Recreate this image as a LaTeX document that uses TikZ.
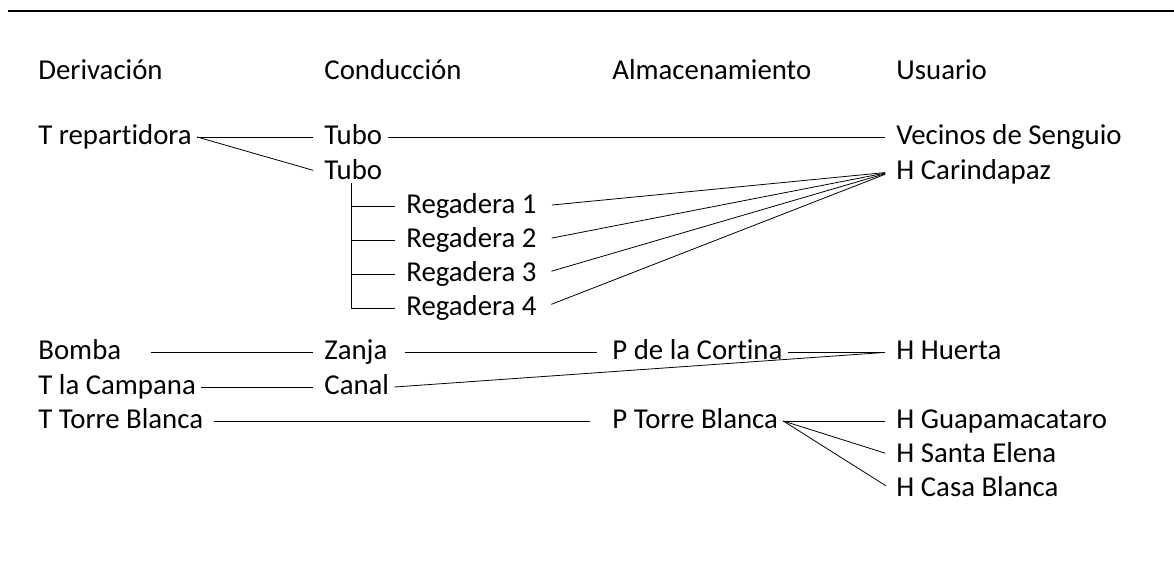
\documentclass[tikz,border=0pt]{standalone}
\usepackage{fontspec}
\setmainfont{Carlito}[Ligatures={NoCommon,NoContextual}]

\tikzset{
  label/.style={anchor=west, inner xsep=2.5pt, inner ysep=0pt,
    text height=0.92em, text depth=0.18em, font=\fontsize{14.4}{17}\selectfont},
  link/.style={shorten >=3pt}
}

\begin{document}
\begin{tikzpicture}[x=0.5pt, y=-0.5pt, every node/.style={label}]
    \useasboundingbox (0,0) rectangle (1174,563);
    \draw[line width=1.1pt] (8,11) -- (1174,11);

    \node(hder) at (33,72) {Derivación};
    \node(hcon) at (319,72) {Conducción};
    \node(halm) at (607,72) {Almacenamiento};
    \node(husu) at (891,72) {Usuario};

    \node(trep) at (33,137) {T repartidora};
    \node(tubo1) at (319,137) {Tubo};
    \node(tubo2) at (319,172) {Tubo};
    \node(vecinos) at (891,137) {Vecinos de Senguio};
    \node(carin) at (891,172) {H Carindapaz};
    \node(reg1) at (401,206) {Regadera 1};
    \node(reg2) at (401,240) {Regadera 2};
    \node(reg3) at (401,274) {Regadera 3};
    \node(reg4) at (401,308) {Regadera 4};

    \node(bomba) at (33,352) {Bomba};
    \node(zanja) at (319,352) {Zanja};
    \node(cortina) at (607,352) {P de la Cortina};
    \node(huerta) at (891,352) {H Huerta};
    \node(campana) at (33,387) {T la Campana};
    \node(canal) at (319,387) {Canal};

    \node(ttorre) at (33,421) {T Torre Blanca};
    \node(ptorre) at (607,421) {P Torre Blanca};
    \node(guapa) at (891,421) {H Guapamacataro};
    \node(selena) at (891,455) {H Santa Elena};
    \node(cblanca) at (891,489) {H Casa Blanca};

    \draw[link] (trep.east) -- (tubo1.west);
    \draw[link] (trep.east) -- (tubo2.west);
    \draw[link] (tubo1.east) -- (vecinos.west);
    \draw ([xshift=-1pt]tubo2.south) -- ([xshift=-1pt]tubo2.south |- reg4.west);
    \foreach \r in {reg1,reg2,reg3,reg4} {
      \draw[link] ([xshift=-1pt]tubo2.south |- \r.west) -- (\r.west);
      \draw[link, shorten <=5pt] (\r.east) -- (carin.west);
    }
    \draw[link, shorten <=12pt] (bomba.east) -- (zanja.west);
    \draw[shorten <=6pt, shorten >=5pt] (zanja.east) -- (cortina.west);
    \draw[link] (cortina.east) -- (huerta.west);
    \draw[link] (canal.east) -- (huerta.west);
    \draw[link] (campana.east) -- (canal.west);
    \draw[shorten <=3pt, shorten >=8.5pt] (ttorre.east) -- (ptorre.west);
    \draw[link] (ptorre.east) -- (guapa.west);
    \draw[link] (ptorre.east) -- (selena.west);
    \draw[link] (ptorre.east) -- (cblanca.west);
  \end{tikzpicture}
\end{document}
